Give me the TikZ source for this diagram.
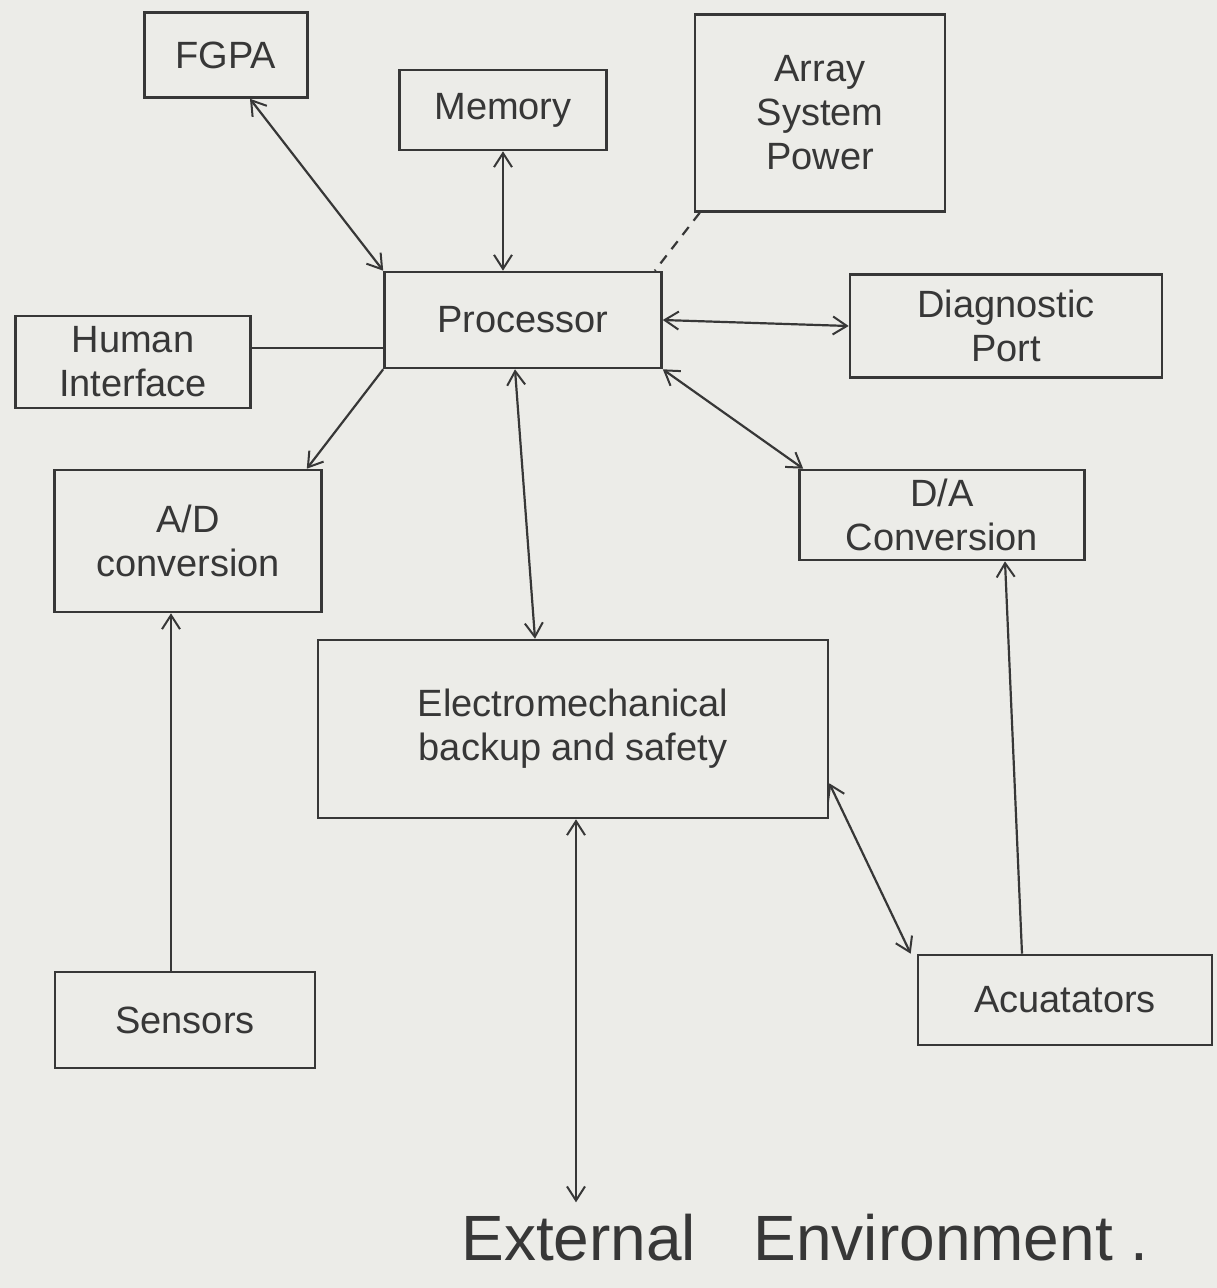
\documentclass[tikz,border=0pt]{standalone}
\usepackage{fontspec}
\setmainfont{Liberation Sans}
\usetikzlibrary{arrows.meta,calc}
\definecolor{paper}{RGB}{236,236,232}
\definecolor{ink}{RGB}{55,55,55}
\tikzset{
  blk/.style={draw=ink, line width=2.6pt, text=ink, align=center, inner sep=4pt,
    font=\fontsize{38}{44}\selectfont},
  conn/.style={draw=ink, line width=2.2pt},
  tip/.style={-{Straight Barb[length=14pt,width=18pt,line width=2pt]}},
  tips/.style={{Straight Barb[length=14pt,width=18pt,line width=2pt]}-{Straight Barb[length=14pt,width=18pt,line width=2pt]}},
}
\begin{document}
\begin{tikzpicture}[x=1pt,y=-1pt]
\fill[paper] (0,0) rectangle (1217,1288);
\useasboundingbox (0,0) rectangle (1217,1288);

\node[blk, minimum width=163pt, minimum height=85pt] (fgpa) at (226,55) {FGPA};
\node[blk, minimum width=207pt, minimum height=80pt] (mem) at (503,110) {Memory};
\node[blk, minimum width=250pt, minimum height=197pt] (pow) at (820,113) {Array\\System\\Power};
\node[blk, minimum width=277pt, minimum height=96pt] (proc) at (523,320) {Processor};
\node[blk, minimum width=235pt, minimum height=92pt] (hum) at (133,362) {Human\\Interface};
\node[blk, minimum width=312pt, minimum height=103pt] (diag) at (1006,326) {Diagnostic\\Port};
\node[blk, minimum width=267pt, minimum height=142pt] (ad) at (188,541) {A/D\\conversion};
\node[blk, minimum width=285pt, minimum height=90pt] (da) at (942,515) {D/A\\Conversion};
\node[blk, minimum width=510pt, minimum height=178pt] (em) at (573,729) {Electromechanical\\backup and safety};
\node[blk, minimum width=260pt, minimum height=96pt] (sens) at (185,1020) {Sensors};
\node[blk, minimum width=294pt, minimum height=90pt] (act) at (1065,1000) {Acuatators};
\node[text=ink, font=\fontsize{64}{70}\selectfont, inner sep=2pt] (ext) at (805,1238) {External\hspace{0.9em}Environment .};

% connectors
\draw[conn, tips] ([xshift=24pt]fgpa.south) -- (proc.north west);
\draw[conn, tips] (mem.south) -- (mem.south |- proc.north);
\draw[conn, dashed, dash pattern=on 10pt off 8pt] ([xshift=6pt]pow.south west) -- ([xshift=-8pt]proc.north east);
\draw[conn] ([yshift=14pt]hum.east) -- ([yshift=14pt]hum.east -| proc.west);
\draw[conn, tips] (proc.east) -- (diag.west);
\draw[conn, tip] (proc.south west) -- ([xshift=-16pt]ad.north east);
\draw[conn, tips] ([xshift=-8pt]proc.south) -- ([xshift=-38pt]em.north);
\draw[conn, tips] (proc.south east) -- ([xshift=5pt]da.north west);
\draw[conn, tip] ([xshift=-14pt]sens.north) -- ([xshift=-14pt]sens.north |- ad.south);
\draw[conn, tip] ([xshift=-43pt]act.north) -- ([xshift=63pt]da.south);
\draw[conn, tips] ([yshift=36pt]em.south east) -- ([xshift=-6pt]act.north west);
\draw[conn, tips] ([xshift=3pt]em.south) -- ([xshift=3pt,yshift=10pt]em.south |- ext.north);
\end{tikzpicture}
\end{document}
